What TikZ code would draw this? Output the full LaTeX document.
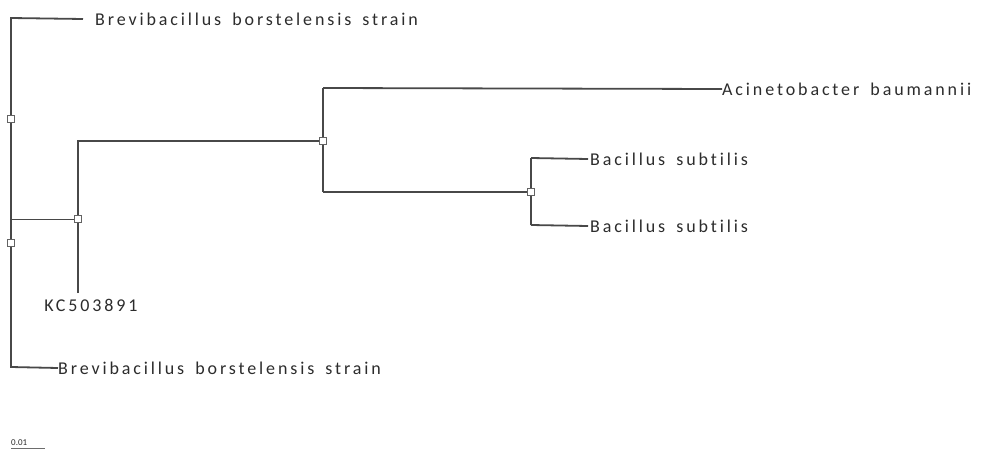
\documentclass[tikz,border=0pt]{standalone}
\usepackage{fontspec}
\setmainfont{Carlito}
\newfontfamily\labfont[LetterSpace=16,WordSpace=1.6,Ligatures={NoCommon,NoRequired,NoContextual}]{Carlito}
\definecolor{branch}{HTML}{484848}
\definecolor{labtxt}{HTML}{2c2c2c}
\tikzset{
  br/.style={draw=branch,line width=1.8pt},
  thinbr/.style={draw=branch,line width=1.0pt},
  sq/.style={draw=branch!85,fill=white,line width=0.9pt,minimum size=6.5pt,inner sep=0pt,rectangle},
  lab/.style={anchor=west,inner sep=0pt,text=labtxt,font=\labfont\fontsize{18}{19}\selectfont},
}
\begin{document}
\begin{tikzpicture}[x=1pt,y=-1pt]
\useasboundingbox[fill=white] (0,0) rectangle (987,452);
% junction points
\coordinate (rt) at (11,18);
\coordinate (rb) at (11,367);
\coordinate (rj) at (11,219);
\coordinate (ka) at (78,141);
\coordinate (kb) at (78,293);
\coordinate (aa) at (323,88);
\coordinate (ab) at (323,192);
\coordinate (ba) at (531,158);
\coordinate (bb) at (531,225);
% labels
\node[lab] (t1) at (95,19) {Brevibacillus borstelensis strain};
\node[lab] (t2) at (58,368) {Brevibacillus borstelensis strain};
\node[lab] (ac) at (722,89) {Acinetobacter baumannii};
\node[lab] (bs1) at (590,159) {Bacillus subtilis};
\node[lab] (bs2) at (590,226) {Bacillus subtilis};
\node[lab,anchor=center] (kc) at (91,305) {KC503891};
% branches
\draw[br] ([xshift=-12pt]t1.west) -- (rt) -- (rb) -- (t2.west);
\draw[thinbr] (rj) -- (78,219);
\draw[br] (kb) -- (ka) -- (323,141);
\draw[br] (aa) -- (ab);
\draw[br] (aa) -- (ac.west);
\draw[br] (ab) -- (531,192);
\draw[br] (ba) -- (bb);
\draw[br] (ba) -- ([xshift=-2pt]bs1.west);
\draw[br] (bb) -- ([xshift=-2pt]bs2.west);
% node markers
\node[sq] (s1) at (11,119) {};
\node[sq] (s2) at (11,243) {};
\node[sq] (nk) at (78,219) {};
\node[sq] (na) at (323,141) {};
\node[sq] (nb) at (531,192) {};
% scale bar
\node[anchor=south west,inner sep=0pt,text=labtxt,font=\fontsize{9}{10}\selectfont] (sc) at (11,446) {0.01};
\draw[draw=branch!80,line width=1pt] (sc.south west) ++(0,2) coordinate (sa) -- ++(34,0) coordinate (sb);
\end{tikzpicture}
\end{document}
